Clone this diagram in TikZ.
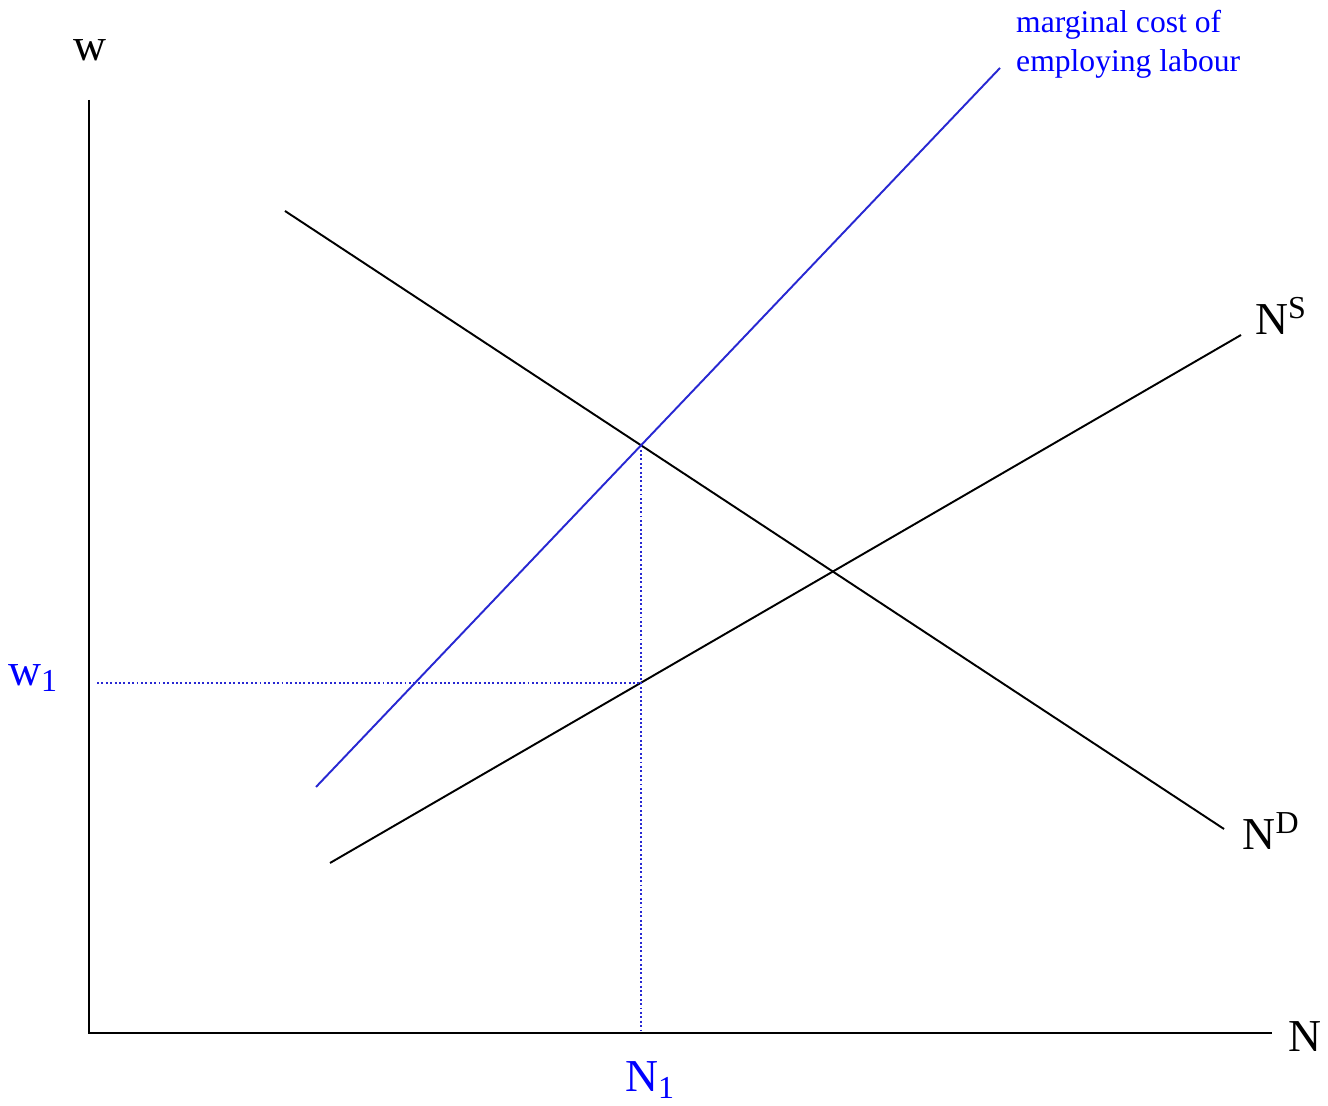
\documentclass[tikz,border=0pt]{standalone}
\usepackage{fontspec}
\setmainfont{Liberation Serif}
\definecolor{mcblue}{RGB}{40,40,210}
\begin{document}
\begin{tikzpicture}[
      axis/.style={line width=1.4pt},
      curve/.style={line width=1.1pt},
      guide/.style={mcblue, line width=1.1pt, dash pattern=on 1.1pt off 1.4pt},
      biglabel/.style={font=\fontsize{26}{28}\selectfont},
      smalllabel/.style={font=\fontsize{18}{22}\selectfont, text=blue, align=left}
    ]
    \useasboundingbox (0,0) rectangle (26.56,22.12);
    % axes
    \coordinate (O) at (1.78,1.46);
    \coordinate (ytop) at (1.78,20.12);
    \coordinate (xend) at (25.44,1.46);
    \draw[axis] (ytop) -- (O) -- (xend);
    % demand, supply, marginal cost
    \coordinate (d0) at (5.70,17.90);
    \coordinate (d1) at (24.48,5.54);
    \coordinate (s0) at (6.60,4.86);
    \coordinate (s1) at (24.82,15.42);
    \coordinate (m0) at (6.32,6.38);
    \coordinate (m1) at (20.00,20.76);
    \draw[curve] (d0) -- (d1);
    \draw[curve] (s0) -- (s1);
    \draw[curve, mcblue] (m0) -- (m1);
    \coordinate (E) at (intersection of d0--d1 and m0--m1);
    \coordinate (F) at (intersection of s0--s1 and E--{E |- O});
    \draw[guide] (E) -- (E |- O);
    \draw[guide] ([xshift=0.16cm]O |- F) -- (F);
    % labels
    \node[biglabel] (wlab) at (1.80,21.12) {w};
    \node[biglabel] (nlab) at (26.10,1.38) {N};
    \node[biglabel] (ns) at (25.62,15.80) {N\textsuperscript{S}};
    \node[biglabel] (nd) at (25.42,5.50) {N\textsuperscript{D}};
    \node[biglabel, text=blue] (w1) at (0.66,8.56) {w\textsubscript{1}};
    \node[biglabel, text=blue] (n1) at (13.00,0.52) {N\textsubscript{1}};
    \node[smalllabel, anchor=west] (mc) at (20.20,21.24) {marginal cost of\\employing labour};
  \end{tikzpicture}
\end{document}
